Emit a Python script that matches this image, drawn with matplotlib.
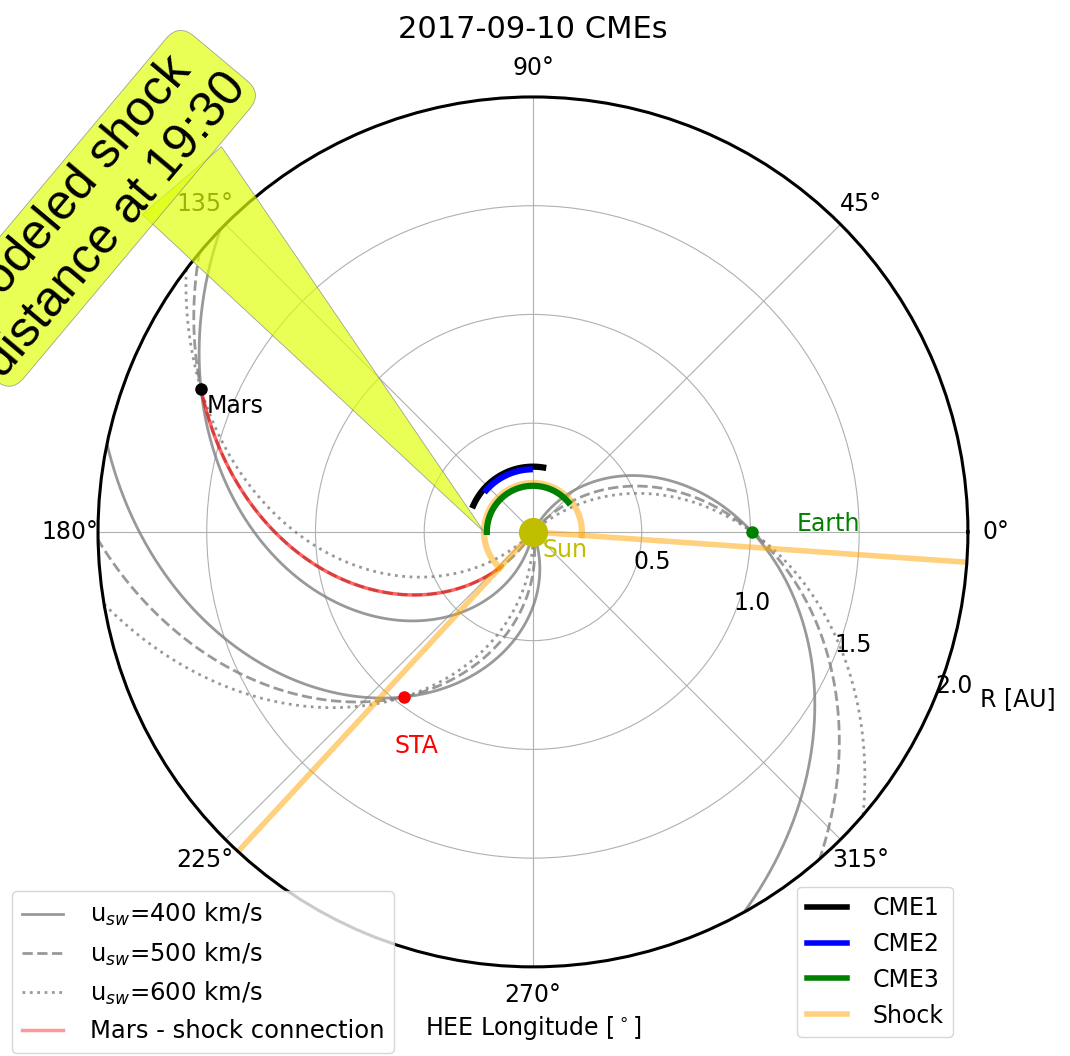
import numpy as np
import matplotlib.pyplot as plt
from matplotlib.lines import Line2D

plt.rcParams['font.size'] = 17

# planets: HEE longitude (deg) and heliocentric distance (AU)
planets = ['Earth', 'Mars', 'STA']
planet_lon = [0.0, 156.7, 232.0]
planet_r = [1.007, 1.662, 0.963]
planet_colors = ['green', 'black', 'red']
label_offsets = [(32, 6), (4, -12), (9, -35)]
label_align = ['left', 'left', 'center']

# solar wind speeds (km/s) for the Parker spirals
usw = [400, 500, 600]
usw_styles = ['-', '--', ':']

# CME fronts: radius (AU), longitude range (deg)
cme_names = ['CME1', 'CME2', 'CME3']
cme_r = [0.30, 0.288, 0.212]
cme_lon0 = [81, 93, 40]
cme_lon1 = [156, 138, 180]
cme_colors = ['black', 'blue', 'green']

# shock front
shock_r = 0.225
shock_lon0 = -4
shock_lon1 = 227.3

rmax = 2.0
AU = 1.496e8  # km
omega = 2 * np.pi / (25.38 * 86400)  # rad/s


def spiral(lon, r0, u, r):
    # longitude of the Parker spiral through (lon, r0) at distance r
    return np.radians(lon) + omega * AU / u * (r0 - r)


fig = plt.figure(figsize=(10.7, 10.56), dpi=100)
ax = fig.add_axes([0.0916, 0.0843, 0.813, 0.824], projection='polar')

r = np.linspace(0, rmax, 400)
for lon, r0 in zip(planet_lon, planet_r):
    for u, ls in zip(usw, usw_styles):
        ax.plot(spiral(lon, r0, u, r), r, color='grey', ls=ls, lw=2, alpha=0.8)

# field line connecting Mars to the shock
rc = np.linspace(shock_r, planet_r[1], 200)
ax.plot(spiral(planet_lon[1], planet_r[1], 500, rc), rc, color='red', lw=2.5, alpha=0.6)

# shock front and its flanks
th = np.radians(np.linspace(shock_lon0, shock_lon1, 200))
ax.plot(th, np.full_like(th, shock_r), color='orange', lw=4.5, alpha=0.5)
for lon in [shock_lon0, shock_lon1]:
    ax.plot([np.radians(lon)] * 2, [0, rmax], color='orange', lw=4, alpha=0.5)

for name, rr, a0, a1, c in zip(cme_names, cme_r, cme_lon0, cme_lon1, cme_colors):
    th = np.radians(np.linspace(a0, a1, 100))
    ax.plot(th, np.full_like(th, rr), color=c, lw=4.5)

ax.plot(0, 0, 'o', color='y', ms=20, zorder=5)
ax.annotate('Sun', xy=(0, 0), xytext=(7, -13), textcoords='offset points',
            color='y', ha='left', va='center')

for name, lon, rr, c, off, ha in zip(planets, planet_lon, planet_r, planet_colors,
                                    label_offsets, label_align):
    ax.plot(np.radians(lon), rr, 'o', color=c, ms=8, zorder=5)
    ax.annotate(name, xy=(np.radians(lon), rr), xytext=off, textcoords='offset points',
                color=c, ha=ha, va='center')

ax.set_rmax(rmax)
ax.set_rticks([0.5, 1.0, 1.5, 2.0])
ax.set_rlabel_position(-22.5)
ax.set_thetagrids(np.arange(0, 360, 45))
ax.tick_params(axis='x', pad=10)
ax.spines['polar'].set_linewidth(2.2)
ax.text(np.radians(-19), 2.36, 'R [AU]', ha='center', va='center')
ax.set_xlabel(r'HEE Longitude [$^\circ$]', labelpad=5)
ax.set_title('2017-09-10 CMEs', fontsize=22, y=1.068, pad=0)

callout = (0.88, 1.0, 0.05)
ax.annotate('Modeled shock\ndistance at 19:30', xy=(np.pi, shock_r),
            xytext=(0.0887, 0.8027), textcoords='figure fraction',
            ha='center', va='center', rotation=50, fontsize=36,
            family='Liberation Sans',
            bbox=dict(boxstyle='round,pad=0.1,rounding_size=0.4', fc=callout,
                      ec='grey', lw=0.6, alpha=0.7),
            arrowprops=dict(arrowstyle='wedge,tail_width=2.5', fc=callout, ec='grey',
                            lw=0.6, alpha=0.7, relpos=(0.771, 0.578), mutation_scale=30,
                            patchA=None, shrinkA=0, shrinkB=0))

speed_handles = [Line2D([], [], color='grey', ls=ls, lw=2, alpha=0.8) for ls in usw_styles]
speed_handles.append(Line2D([], [], color='red', lw=2.5, alpha=0.4))
speed_labels = ['u$_{sw}$=%d km/s' % u for u in usw] + ['Mars - shock connection']
fig.legend(speed_handles, speed_labels, loc='lower left',
           bbox_to_anchor=(0.0112, 0.003), borderaxespad=0, fontsize=17.5,
           handlelength=1.7, handletextpad=1.1)

cme_handles = [Line2D([], [], color=c, lw=4) for c in cme_colors]
cme_handles.append(Line2D([], [], color='orange', lw=4, alpha=0.5))
fig.legend(cme_handles, cme_names + ['Shock'], loc='lower left',
           bbox_to_anchor=(0.745, 0.018), borderaxespad=0,
           handlelength=1.7, handletextpad=1.1)

fig.savefig('out.png', dpi=100)
